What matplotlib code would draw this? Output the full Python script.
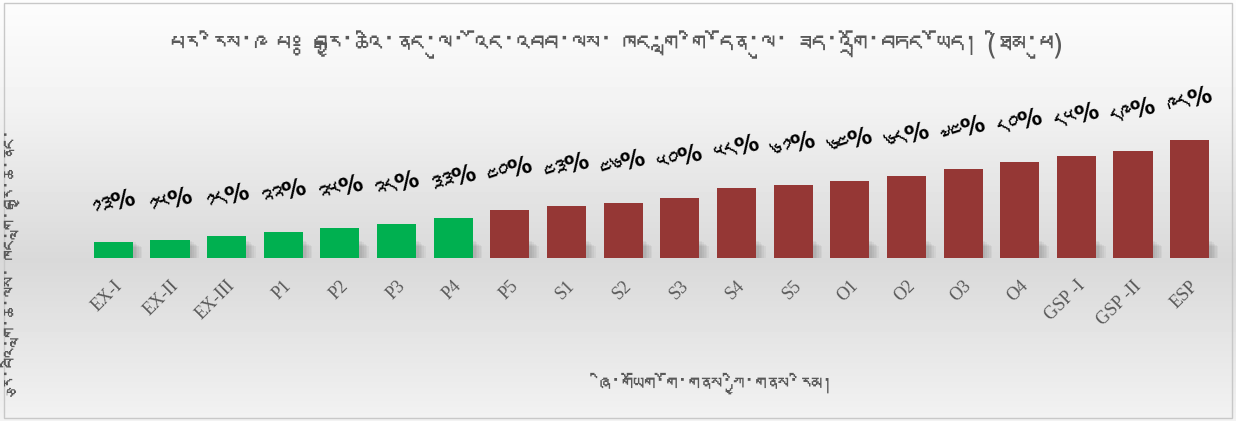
import numpy as np
import matplotlib
matplotlib.use("Agg")
import matplotlib.pyplot as plt
from matplotlib import font_manager
from matplotlib.ft2font import FT2Font
from matplotlib.patches import Rectangle

categories = ["EX-I", "EX-II", "EX-III", "P1", "P2", "P3", "P4", "P5", "S1", "S2",
              "S3", "S4", "S5", "O1", "O2", "O3", "O4", "GSP -I", "GSP -II", "ESP"]
values = [13, 15, 18, 22, 25, 28, 33, 40, 43, 46, 50, 58, 61, 64, 68, 74, 80, 85, 89, 98]
labels = ["༡༣%", "༡༥%", "༡༨%", "༢༢%", "༢༥%", "༢༨%", "༣༣%", "༤༠%", "༤༣%", "༤༦%",
          "༥༠%", "༥༨%", "༦༡%", "༦༤%", "༦༨%", "༧༤%", "༨༠%", "༨༥%", "༨༩%", "༩༨%"]
n_green = 7  # EX and P1-P4 in green, rest dark red

title = "པར་རིས་༩ པ༔ བརྒྱ་ཆའི་ནང་ལུ་ འོང་འབབ་ལས་ ཁང་གླ་གི་དོན་ལུ་ ཟད་འགྲོ་བཏང་ཡོད། (ཐིམ་ཕུ)"
xlabel = "ཞི་གཡོག་གོ་གནས་ཀྱི་གནས་རིམ།"
ylabel = "རྩ་བའི་གླ་ཆ་ལས་ ཁང་གླ་བརྒྱ་ཆ་ནང་"


# look for any installed font that has tibetan glyphs
def find_tibetan():
    seen = set()
    for f in font_manager.fontManager.ttflist:
        if f.fname in seen:
            continue
        seen.add(f.fname)
        try:
            if 0x0F40 in FT2Font(f.fname).get_charmap():
                return f.name
        except Exception:
            pass
    return None


tib = find_tibetan()
# DejaVu first so that % and brackets look normal, tibetan glyphs fall through
tib_fam = ["DejaVu Sans", tib] if tib else ["DejaVu Sans"]
plt.rcParams["font.family"] = tib_fam

fig = plt.figure(figsize=(12.36, 4.21), dpi=100)

# background gradient for whole chart area
bg = fig.add_axes([0, 0, 1, 1], zorder=-10)
ys = np.linspace(0, 1, 421)
stops_y = [0.0, 0.25, 0.62, 1.0]
stops_v = [0.99, 0.95, 0.85, 0.95]
grad = np.interp(ys, stops_y, stops_v)[:, None] * np.ones((1, 10))
bg.imshow(grad, cmap="gray", vmin=0, vmax=1, aspect="auto", extent=[0, 1, 1, 0])
bg.set_xlim(0, 1)
bg.set_ylim(1, 0)
bg.axis("off")
bg.add_patch(Rectangle((0.003, 0.006), 0.994, 0.988, fill=False, edgecolor="#c8c8c8", lw=1))

ax = fig.add_axes([85 / 1236, 1 - 258 / 421, 1133 / 1236, 120 / 421])
ax.patch.set_alpha(0)
x = np.arange(len(categories))
colors = ["#00b050"] * n_green + ["#953735"] * (len(categories) - n_green)
width = 0.69

# soft shadow at the base of each bar
for k in range(5):
    ax.bar(x + 0.05 + 0.015 * k, [min(v, 14) - k for v in values], width=width + 0.03 * k,
           bottom=0, color="black", alpha=0.04, zorder=1, linewidth=0)

ax.bar(x, values, width=width, color=colors, zorder=3, linewidth=0)

for xi, v, lab in zip(x, values, labels):
    ax.annotate(lab, (xi, v), xytext=(0, 28), textcoords="offset points",
                ha="center", va="center", rotation=18, fontsize=17,
                fontweight="bold", color="black", family=tib_fam)

ax.set_xlim(-0.5, len(categories) - 0.5)
ax.set_ylim(0, 100)
ax.set_xticks(x)
ax.set_xticklabels(categories, rotation=45, ha="right", rotation_mode="anchor",
                   fontsize=13, color="#595959", family="Liberation Serif")
ax.tick_params(axis="x", length=0, pad=14)
ax.set_yticks([])
for s in ax.spines.values():
    s.set_visible(False)

fig.text(617 / 1236, 1 - 47 / 421, title, ha="center", va="center",
         fontsize=20, color="#595959", family=tib_fam)
fig.text(717 / 1236, 1 - 386 / 421, xlabel, ha="center", va="center",
         fontsize=16, color="#595959", family=tib_fam)
fig.text(22 / 1236, 1 - 266 / 421, ylabel, ha="center", va="center", rotation=90,
         fontsize=14.5, color="#595959", family=tib_fam)

fig.savefig("out.png", dpi=100)
